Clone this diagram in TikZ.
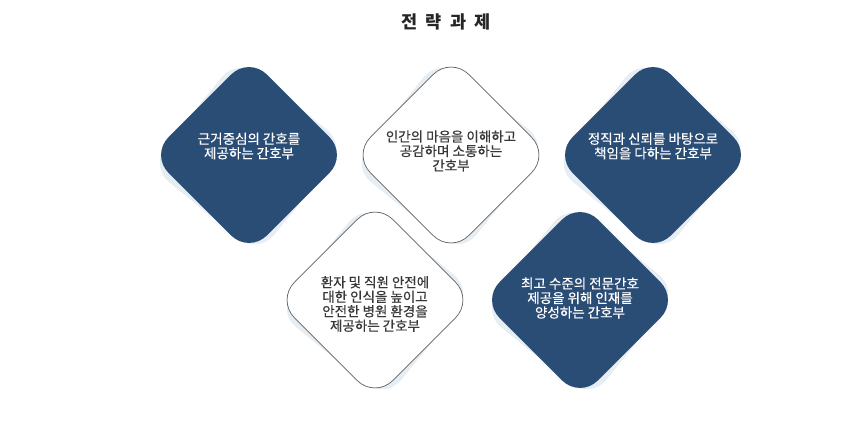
\documentclass[tikz,border=0pt]{standalone}
\usepackage{fontspec}
\setmainfont{Noto Sans CJK KR}
\newfontfamily\medfont[FakeBold=0.5]{Noto Sans CJK KR}
\usepackage{tikz}
\usepackage{xcolor}
\usetikzlibrary{positioning}
\definecolor{navy}{HTML}{2A4D76}
\definecolor{haze}{HTML}{E6EDF3}
\definecolor{ink}{HTML}{383838}

\begin{document}
\begin{tikzpicture}[x=1pt,y=-1pt,
	box/.style={rectangle, minimum size=139pt, inner sep=0pt, rounded corners=25pt, rotate=45},
	dark box/.style={box, fill=navy},
	light box/.style={box, fill=white, draw=ink!80, line width=0.7pt},
	haze box/.style={box, fill=haze, minimum size=140pt, rotate=6},
	caption/.style={align=center, font=\medfont\fontsize{13.5}{14.5}\selectfont, inner sep=0pt},
	dark text/.style={caption, text=white},
	light text/.style={caption, text=ink}]

  \useasboundingbox (0,0) rectangle (856,421);

  \node[font=\bfseries\fontsize{17.5}{20}\selectfont, text=black!85] (title) at (446,22)
    {전\hspace{8pt}략\hspace{8pt}과\hspace{8pt}제};

  % soft shadows behind the diamonds
  \node[haze box] (s1) at (248,156) {};
  \node[haze box] (s2) at (450,156) {};
  \node[haze box] (s3) at (652,156) {};
  \node[haze box] (s4) at (375,301) {};
  \node[haze box] (s5) at (580,301) {};

  \node[dark box] (d1) at (249,155) {};
  \node[light box] (d2) at (451,155) {};
  \node[dark box] (d3) at (653,155) {};
  \node[light box] (d4) at (375,300) {};
  \node[dark box] (d5) at (580,300) {};

  \node[dark text] (t1) at ([yshift=9pt]d1) {근거중심의 간호를\\제공하는 간호부};
  \node[light text] (t2) at ([yshift=4pt]d2) {인간의 마음을 이해하고\\공감하며 소통하는\\간호부};
  \node[dark text] (t3) at ([yshift=9pt]d3) {정직과 신뢰를 바탕으로\\책임을 다하는 간호부};
  \node[light text] (t4) at ([yshift=-4pt]d4) {환자 및 직원 안전에\\대한 인식을 높이고\\안전한 병원 환경을\\제공하는 간호부};
  \node[dark text] (t5) at ([yshift=2pt]d5) {최고 수준의 전문간호\\제공을 위해 인재를\\양성하는 간호부};
\end{tikzpicture}
\end{document}
